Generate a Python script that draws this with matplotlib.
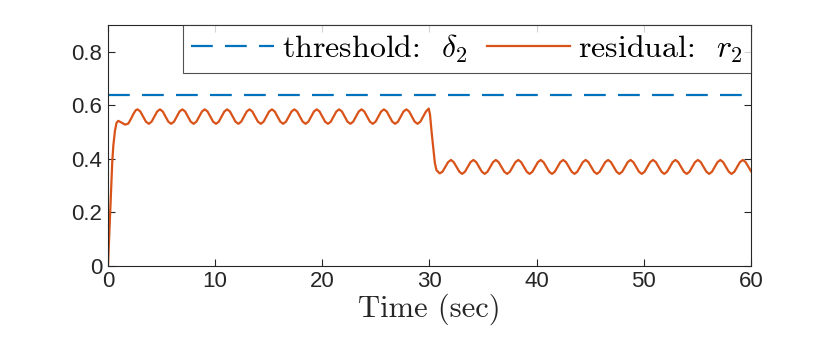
import matplotlib
matplotlib.use("Agg")
import matplotlib.pyplot as plt

# threshold delta_2
t_thr = [0, 60]
thr = [0.64, 0.64]

# residual r_2
t_res = [0.00, 0.10, 0.20, 0.30, 0.40, 0.50, 0.65, 0.80, 0.96, 1.20, 1.60, 1.90, 2.15, 2.40, 2.60,
         2.76, 3.02, 3.28, 3.54, 3.81, 4.07, 4.33, 4.59,
         4.85, 5.11, 5.37, 5.63, 5.90, 6.16, 6.42, 6.68,
         6.94, 7.20, 7.46, 7.72, 7.99, 8.25, 8.51, 8.77,
         9.03, 9.29, 9.55, 9.81, 10.08, 10.34, 10.60, 10.86,
         11.12, 11.38, 11.64, 11.90, 12.17, 12.43, 12.69, 12.95,
         13.21, 13.47, 13.73, 13.99, 14.26, 14.52, 14.78, 15.04,
         15.30, 15.56, 15.82, 16.08, 16.35, 16.61, 16.87, 17.13,
         17.39, 17.65, 17.91, 18.17, 18.44, 18.70, 18.96, 19.22,
         19.48, 19.74, 20.00, 20.26, 20.53, 20.79, 21.05, 21.31,
         21.57, 21.83, 22.09, 22.35, 22.62, 22.88, 23.14, 23.40,
         23.66, 23.92, 24.18, 24.44, 24.71, 24.97, 25.23, 25.49,
         25.75, 26.01, 26.27, 26.53, 26.80, 27.06, 27.32, 27.58,
         27.84, 28.10, 28.36, 28.62, 28.89, 29.15, 29.41, 29.67,
         29.93, 30.05, 30.20, 30.36, 30.50, 30.65, 30.95, 31.21, 31.48, 31.74,
         32.00, 32.26, 32.52, 32.79, 33.05, 33.31, 33.57, 33.83,
         34.10, 34.36, 34.62, 34.89, 35.15, 35.41, 35.67, 35.93,
         36.19, 36.45, 36.71, 36.98, 37.24, 37.50, 37.76, 38.02,
         38.29, 38.55, 38.81, 39.08, 39.34, 39.60, 39.86, 40.12,
         40.38, 40.64, 40.90, 41.17, 41.43, 41.69, 41.95, 42.21,
         42.48, 42.74, 43.00, 43.27, 43.53, 43.79, 44.05, 44.31,
         44.57, 44.83, 45.09, 45.36, 45.62, 45.88, 46.14, 46.40,
         46.67, 46.93, 47.19, 47.46, 47.72, 47.98, 48.24, 48.50,
         48.76, 49.02, 49.28, 49.55, 49.81, 50.07, 50.33, 50.59,
         50.86, 51.12, 51.38, 51.65, 51.91, 52.17, 52.43, 52.69,
         52.95, 53.21, 53.47, 53.74, 54.00, 54.26, 54.52, 54.78,
         55.05, 55.31, 55.57, 55.84, 56.10, 56.36, 56.62, 56.88,
         57.14, 57.40, 57.66, 57.93, 58.19, 58.45, 58.71, 58.97,
         59.24, 59.50, 59.76, 60.00]
r_res = [0.000, 0.100, 0.210, 0.310, 0.390, 0.450, 0.505, 0.535, 0.542, 0.537, 0.528, 0.532, 0.550, 0.570, 0.582,
         0.585, 0.577, 0.558, 0.539, 0.531, 0.539, 0.558, 0.577,
         0.585, 0.577, 0.558, 0.539, 0.531, 0.539, 0.558, 0.577,
         0.585, 0.577, 0.558, 0.539, 0.531, 0.539, 0.558, 0.577,
         0.585, 0.577, 0.558, 0.539, 0.531, 0.539, 0.558, 0.577,
         0.585, 0.577, 0.558, 0.539, 0.531, 0.539, 0.558, 0.577,
         0.585, 0.577, 0.558, 0.539, 0.531, 0.539, 0.558, 0.577,
         0.585, 0.577, 0.558, 0.539, 0.531, 0.539, 0.558, 0.577,
         0.585, 0.577, 0.558, 0.539, 0.531, 0.539, 0.558, 0.577,
         0.585, 0.577, 0.558, 0.539, 0.531, 0.539, 0.558, 0.577,
         0.585, 0.577, 0.558, 0.539, 0.531, 0.539, 0.558, 0.577,
         0.585, 0.577, 0.558, 0.539, 0.531, 0.539, 0.558, 0.577,
         0.585, 0.577, 0.558, 0.539, 0.531, 0.539, 0.558, 0.577,
         0.585, 0.577, 0.558, 0.539, 0.531, 0.539, 0.558, 0.577,
         0.588, 0.565, 0.500, 0.440, 0.385, 0.358, 0.346, 0.352, 0.370, 0.388,
         0.396, 0.388, 0.370, 0.352, 0.344, 0.352, 0.370, 0.388,
         0.396, 0.388, 0.370, 0.352, 0.344, 0.352, 0.370, 0.388,
         0.396, 0.388, 0.370, 0.352, 0.344, 0.352, 0.370, 0.388,
         0.396, 0.388, 0.370, 0.352, 0.344, 0.352, 0.370, 0.388,
         0.396, 0.388, 0.370, 0.352, 0.344, 0.352, 0.370, 0.388,
         0.396, 0.388, 0.370, 0.352, 0.344, 0.352, 0.370, 0.388,
         0.396, 0.388, 0.370, 0.352, 0.344, 0.352, 0.370, 0.388,
         0.396, 0.388, 0.370, 0.352, 0.344, 0.352, 0.370, 0.388,
         0.396, 0.388, 0.370, 0.352, 0.344, 0.352, 0.370, 0.388,
         0.396, 0.388, 0.370, 0.352, 0.344, 0.352, 0.370, 0.388,
         0.396, 0.388, 0.370, 0.352, 0.344, 0.352, 0.370, 0.388,
         0.396, 0.388, 0.370, 0.352, 0.344, 0.352, 0.370, 0.388,
         0.396, 0.388, 0.370, 0.352, 0.344, 0.352, 0.370, 0.388,
         0.396, 0.388, 0.370, 0.354]

x_ticks = [0, 10, 20, 30, 40, 50, 60]
y_ticks = [0, 0.2, 0.4, 0.6, 0.8]
y_tick_labels = ['0', '0.2', '0.4', '0.6', '0.8']

plt.rcParams['mathtext.fontset'] = 'cm'
plt.rcParams['font.family'] = ['Liberation Sans', 'DejaVu Sans']

fig = plt.figure(figsize=(8.3, 3.41), dpi=100)
ax = fig.add_axes([0.1301, 0.2199, 0.7747, 0.7068])

ax.plot(t_thr, thr, color='#0072BD', lw=1.6, dashes=(9.8, 5.5),
        label='threshold:  $\\delta_2$')
ax.plot(t_res, r_res, color='#D95319', lw=1.6, label='residual:  $r_2$')

ax.set_xlim(0, 60)
ax.set_ylim(0, 0.9)
ax.set_xticks(x_ticks)
ax.set_yticks(y_ticks, y_tick_labels)
ax.tick_params(direction='in', length=5, width=0.8, colors='#262626', labelsize=16,
               top=True, right=True)
ax.tick_params(axis='y', pad=4)
for s in ax.spines.values():
    s.set_color('#262626')
    s.set_linewidth(0.8)
ax.set_xlabel('Time (sec)', fontsize=22, family='cmr10', color='#262626', labelpad=1)

leg = ax.legend(loc='upper right', ncol=2, prop={'family': 'cmr10', 'size': 23},
                borderaxespad=0, fancybox=False, edgecolor='#262626',
                handlelength=2.6, handletextpad=0.25, columnspacing=0.6,
                borderpad=0.24)
leg.get_frame().set_linewidth(0.8)

plt.savefig('out.png', dpi=100)
